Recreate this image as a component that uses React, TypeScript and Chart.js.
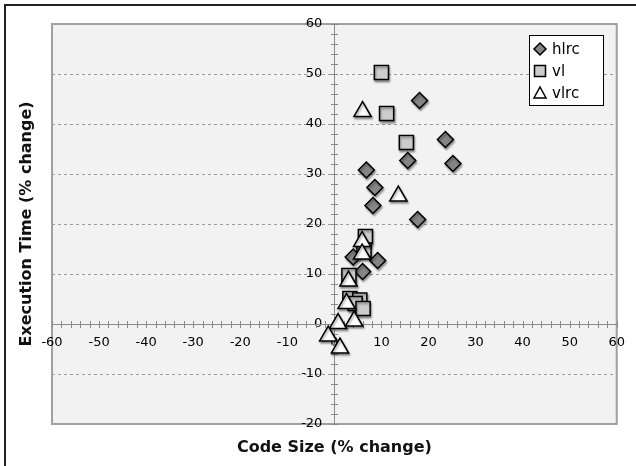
import React, { useEffect, useRef } from 'react';
import { Chart, registerables } from 'chart.js';

Chart.register(...registerables);

// ---- data ----
const seriesNames = ['hlrc', 'vl', 'vlrc'];

const hlrcX = [18.1, 23.6, 25.2, 15.6, 6.8, 8.6, 8.2, 17.7, 9.2, 4.0, 6.0];
const hlrcY = [44.7, 36.9, 32.1, 32.7, 30.8, 27.3, 23.7, 20.9, 12.7, 13.4, 10.5];

const vlX = [10.0, 11.1, 15.3, 6.6, 6.3, 3.1, 3.3, 5.4, 4.4, 6.1];
const vlY = [50.3, 42.1, 36.3, 17.5, 14.8, 9.7, 5.1, 4.8, 4.1, 3.1];

const vlrcX = [6.0, 13.6, 5.9, 5.9, 3.0, 2.6, 0.8, 4.2, -1.3, 1.2];
const vlrcY = [42.5, 25.6, 16.5, 14.0, 8.6, 4.1, 0.1, 0.6, -2.4, -4.8];

const xAxisTitle = 'Code Size (% change)';
const yAxisTitle = 'Execution Time (% change)';

const X_MIN = -60;
const X_MAX = 60;
const Y_MIN = -20;
const Y_MAX = 60;
const MAJOR_STEP = 10;
const MINOR_STEP = 2;
// y tick labels are anchored a little left of the x=0 axis line
const Y_LABEL_ANCHOR = -2.55;

const FONT = '"DejaVu Sans", Verdana, sans-serif';

const colors = {
  hlrc: '#858585',
  vl: '#cccccc',
  vlrc: '#ffffff',
};

function drawLegendMarker(ctx: CanvasRenderingContext2D, style: string, x: number, y: number, fill: string) {
  ctx.beginPath();
  if (style === 'diamond') {
    const r = 6;
    ctx.moveTo(x, y - r);
    ctx.lineTo(x + r, y);
    ctx.lineTo(x, y + r);
    ctx.lineTo(x - r, y);
    ctx.closePath();
  } else if (style === 'square') {
    const s = 5.5;
    ctx.rect(x - s, y - s, 2 * s, 2 * s);
  } else {
    const w = 6;
    ctx.moveTo(x, y - 6);
    ctx.lineTo(x + w, y + 5);
    ctx.lineTo(x - w, y + 5);
    ctx.closePath();
  }
  ctx.fillStyle = fill;
  ctx.fill();
  ctx.lineWidth = 1.5;
  ctx.strokeStyle = '#000';
  ctx.stroke();
}

const decor = {
  id: 'decor',
  beforeDraw(chart: any) {
    const { ctx, chartArea: a, scales } = chart;
    ctx.save();
    ctx.fillStyle = '#ffffff';
    ctx.fillRect(0, 0, chart.width, chart.height);
    // outer frame (left and top edges)
    ctx.fillStyle = '#222';
    ctx.fillRect(4, 4, 2, chart.height);
    ctx.fillRect(4, 4, chart.width, 2);
    // plot background
    ctx.fillStyle = '#f2f2f2';
    ctx.fillRect(a.left, a.top, a.right - a.left, a.bottom - a.top);
    // dashed horizontal grid
    ctx.strokeStyle = '#9a9a9a';
    ctx.lineWidth = 1;
    ctx.setLineDash([3, 3]);
    for (let v = Y_MIN + MAJOR_STEP; v < Y_MAX; v += MAJOR_STEP) {
      if (v === 0) continue;
      const y = Math.round(scales.y.getPixelForValue(v)) + 0.5;
      ctx.beginPath();
      ctx.moveTo(a.left, y);
      ctx.lineTo(a.right, y);
      ctx.stroke();
    }
    ctx.setLineDash([]);
    ctx.strokeStyle = '#a0a0a0';
    ctx.lineWidth = 2;
    ctx.strokeRect(a.left, a.top, a.right - a.left, a.bottom - a.top);
    ctx.restore();
  },
  beforeDatasetsDraw(chart: any) {
    const { ctx, chartArea: a, scales } = chart;
    const x0 = Math.round(scales.x.getPixelForValue(0)) + 0.5;
    const y0 = Math.round(scales.y.getPixelForValue(0)) + 0.5;
    ctx.save();
    ctx.strokeStyle = '#8a8a8a';
    ctx.lineWidth = 1;
    ctx.beginPath();
    ctx.moveTo(a.left, y0);
    ctx.lineTo(a.right, y0);
    ctx.moveTo(x0, a.top);
    ctx.lineTo(x0, a.bottom);
    for (let v = X_MIN; v <= X_MAX; v += MINOR_STEP) {
      const px = Math.round(scales.x.getPixelForValue(v)) + 0.5;
      ctx.moveTo(px, y0 - 3.5);
      ctx.lineTo(px, y0 + 3.5);
    }
    for (let v = Y_MIN; v <= Y_MAX; v += MINOR_STEP) {
      const py = Math.round(scales.y.getPixelForValue(v)) + 0.5;
      ctx.moveTo(x0 - 3.5, py);
      ctx.lineTo(x0 + 3.5, py);
    }
    ctx.stroke();
    ctx.restore();
    // shadow for markers
    ctx.save();
    ctx.shadowColor = 'rgba(0,0,0,0.35)';
    ctx.shadowOffsetX = 1;
    ctx.shadowOffsetY = 2;
    ctx.shadowBlur = 2;
  },
  afterDatasetsDraw(chart: any) {
    chart.ctx.restore();
  },
  afterDraw(chart: any) {
    const { ctx, chartArea: a } = chart;
    ctx.save();
    // legend
    const lx = 529.5, ly = 35.5, lw = 74, lh = 70;
    ctx.fillStyle = '#ffffff';
    ctx.fillRect(lx, ly, lw, lh);
    ctx.strokeStyle = '#000';
    ctx.lineWidth = 1;
    ctx.strokeRect(lx, ly, lw, lh);
    const styles = ['diamond', 'square', 'triangle'];
    const fills = [colors.hlrc, colors.vl, colors.vlrc];
    const rowsY = [49, 71, 93];
    ctx.font = '15px ' + FONT;
    ctx.textBaseline = 'middle';
    ctx.textAlign = 'left';
    seriesNames.forEach((name, i) => {
      drawLegendMarker(ctx, styles[i], 540, rowsY[i], fills[i]);
      ctx.fillStyle = '#000';
      ctx.fillText(name, 552, rowsY[i] + 1);
    });
    // axis titles
    ctx.fillStyle = '#111';
    ctx.font = 'bold 16px ' + FONT;
    ctx.textAlign = 'center';
    ctx.textBaseline = 'middle';
    ctx.fillText(xAxisTitle, (a.left + a.right) / 2, 448);
    ctx.translate(27, (a.top + a.bottom) / 2);
    ctx.rotate(-Math.PI / 2);
    ctx.fillText(yAxisTitle, 0, 0);
    ctx.restore();
  },
};

function toPoints(xs: number[], ys: number[]) {
  return xs.map((x, i) => ({ x, y: ys[i] }));
}

export default function App() {
  const canvasRef = useRef<HTMLCanvasElement | null>(null);

  useEffect(() => {
    if (!canvasRef.current) return;
    const chart = new Chart(canvasRef.current, {
      type: 'scatter',
      data: {
        datasets: [
          {
            label: seriesNames[0],
            data: toPoints(hlrcX, hlrcY),
            pointStyle: 'rectRot',
            pointRadius: 8,
            backgroundColor: colors.hlrc,
            borderColor: '#000',
            borderWidth: 1.5,
            order: 3,
          },
          {
            label: seriesNames[1],
            data: toPoints(vlX, vlY),
            pointStyle: 'rect',
            pointRadius: 10,
            backgroundColor: colors.vl,
            borderColor: '#000',
            borderWidth: 1.5,
            order: 2,
          },
          {
            label: seriesNames[2],
            data: toPoints(vlrcX, vlrcY),
            pointStyle: 'triangle',
            pointRadius: 10,
            backgroundColor: colors.vlrc,
            borderColor: '#000',
            borderWidth: 1.5,
            order: 1,
          },
        ],
      },
      options: {
        responsive: false,
        animation: false,
        layout: { padding: { left: 52, right: 16, top: 24, bottom: 42 } },
        plugins: {
          legend: { display: false },
          tooltip: { enabled: false },
        },
        scales: {
          x: {
            type: 'linear',
            min: X_MIN,
            max: X_MAX,
            position: { y: 0 },
            grid: { display: false, drawTicks: false },
            border: { display: false },
            ticks: {
              stepSize: MAJOR_STEP,
              autoSkip: false,
              maxRotation: 0,
              padding: 11,
              color: '#000',
              font: { family: FONT, size: 13 },
            },
          },
          y: {
            type: 'linear',
            min: Y_MIN,
            max: Y_MAX,
            position: { x: Y_LABEL_ANCHOR },
            grid: { display: false, drawTicks: false },
            border: { display: false },
            ticks: {
              stepSize: MAJOR_STEP,
              autoSkip: false,
              padding: 12,
              color: '#000',
              font: { family: FONT, size: 13 },
            },
          },
        },
      },
      plugins: [decor],
    });
    return () => chart.destroy();
  }, []);

  return (
    <div style={{ position: 'fixed', left: 0, top: 0, width: 636, height: 466, background: '#fff' }}>
      <canvas ref={canvasRef} width={636} height={466} style={{ display: 'block' }} />
    </div>
  );
}
